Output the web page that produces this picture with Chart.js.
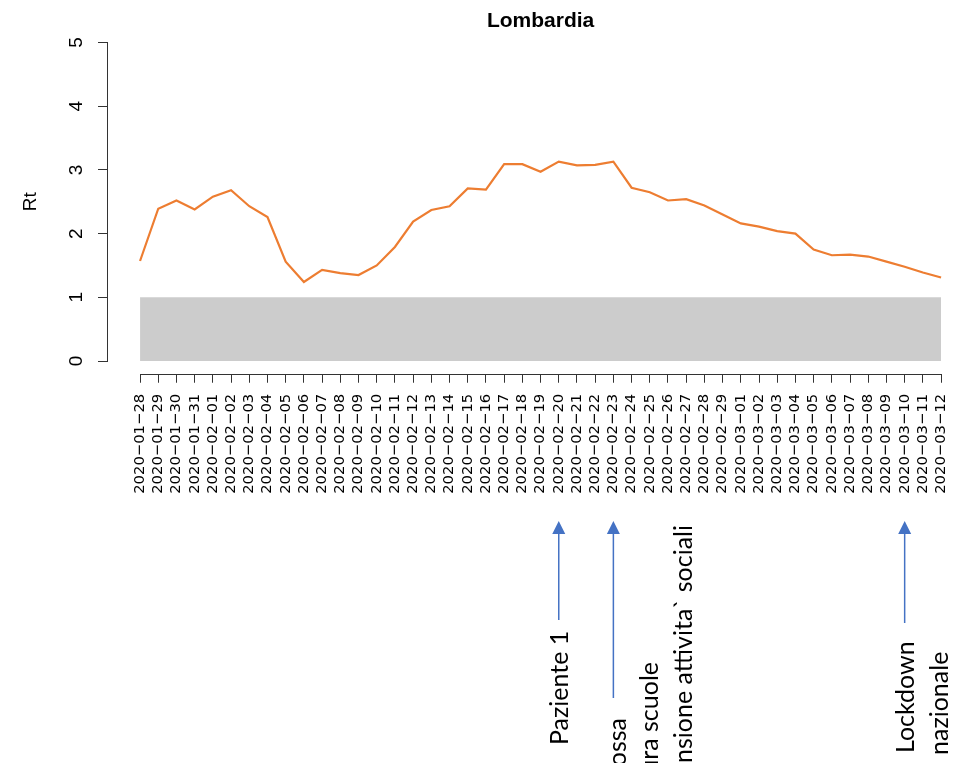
<!DOCTYPE html>
<html>

<head>
  <title>Rt Lombardia</title>
  <script src="https://cdn.jsdelivr.net/npm/chart.js@4.4.0/dist/chart.umd.min.js"></script>

  <style>
    body {
      margin: 0;
      background-color: white;
      overflow: hidden;
    }

    .chart-container {
      position: relative;
      width: 956px;
      height: 763px;
    }
  </style>
</head>

<body>
  <div class="chart-container">
    <canvas id="rtChart"></canvas>
  </div>

  <script>
    const titolo = 'Lombardia';
    const dates = [
      '2020-01-28', '2020-01-29', '2020-01-30', '2020-01-31',
      '2020-02-01', '2020-02-02', '2020-02-03', '2020-02-04', '2020-02-05', '2020-02-06', '2020-02-07',
      '2020-02-08', '2020-02-09', '2020-02-10', '2020-02-11', '2020-02-12', '2020-02-13', '2020-02-14',
      '2020-02-15', '2020-02-16', '2020-02-17', '2020-02-18', '2020-02-19', '2020-02-20', '2020-02-21',
      '2020-02-22', '2020-02-23', '2020-02-24', '2020-02-25', '2020-02-26', '2020-02-27', '2020-02-28',
      '2020-02-29', '2020-03-01', '2020-03-02', '2020-03-03', '2020-03-04', '2020-03-05', '2020-03-06',
      '2020-03-07', '2020-03-08', '2020-03-09', '2020-03-10', '2020-03-11', '2020-03-12'
    ];
    const rt = [
      1.57, 2.39, 2.52, 2.38, 2.58, 2.68, 2.43, 2.26, 1.56, 1.24,
      1.43, 1.38, 1.35, 1.50, 1.79, 2.19, 2.37, 2.43, 2.71, 2.69,
      3.09, 3.09, 2.97, 3.13, 3.07, 3.08, 3.13, 2.72, 2.65, 2.52,
      2.54, 2.44, 2.30, 2.16, 2.11, 2.04, 2.00, 1.75, 1.66, 1.67,
      1.64, 1.56, 1.48, 1.39, 1.31
    ];
    const soglia = 1;
    const yTicks = [0, 1, 2, 3, 4, 5];
    const eventi = [
      { date: '2020-02-20', lines: ['Paziente 1'] },
      { date: '2020-02-23', lines: ['Zona rossa', 'Chiusura scuole', 'Sospensione attivita` sociali'] },
      { date: '2020-03-10', lines: ['Lockdown', 'nazionale'] }
    ];

    // posizioni delle frecce / testi (in pixel, relativi alla data)
    const eventLayout = [
      { tail: 620, lines: [{ dx: 9, y: 745, align: 'left' }] },
      { tail: 698, lines: [{ dx: 13, y: 718, align: 'right' }, { dx: 45, y: 662, align: 'right' }, { dx: 79, y: 525, align: 'right' }] },
      { tail: 623, lines: [{ dx: 9, y: 753, align: 'left' }, { dx: 43, y: 755, align: 'left' }] }
    ];

    const arrowColor = '#4472C4';

    const annotazioni = {
      id: 'annotazioni',
      afterDraw(chart) {
        const ctx = chart.ctx;
        const xs = chart.scales.x;
        const ys = chart.scales.y;
        const area = chart.chartArea;
        ctx.save();

        // assi stile R
        ctx.strokeStyle = '#333';
        ctx.lineWidth = 1;
        ctx.beginPath();
        ctx.moveTo(Math.round(area.left) - 0.5, ys.getPixelForValue(yTicks[0]));
        ctx.lineTo(Math.round(area.left) - 0.5, ys.getPixelForValue(yTicks[yTicks.length - 1]));
        ctx.moveTo(xs.getPixelForValue(0), Math.round(area.bottom) + 0.5);
        ctx.lineTo(xs.getPixelForValue(dates.length - 1), Math.round(area.bottom) + 0.5);
        ctx.stroke();

        // titolo
        ctx.fillStyle = '#000';
        ctx.font = 'bold 21px "Liberation Sans", Arial, sans-serif';
        ctx.textAlign = 'center';
        ctx.textBaseline = 'alphabetic';
        ctx.fillText(titolo, xs.getPixelForValue((dates.length - 1) / 2), 27);

        // frecce e testi
        eventi.forEach((ev, k) => {
          const lay = eventLayout[k];
          const px = xs.getPixelForValue(dates.indexOf(ev.date));
          const tip = 521, headBase = 534;
          ctx.strokeStyle = arrowColor;
          ctx.fillStyle = arrowColor;
          ctx.lineWidth = 1.5;
          ctx.beginPath();
          ctx.moveTo(px, lay.tail);
          ctx.lineTo(px, headBase);
          ctx.stroke();
          ctx.beginPath();
          ctx.moveTo(px, tip);
          ctx.lineTo(px - 6.5, headBase);
          ctx.lineTo(px + 6.5, headBase);
          ctx.closePath();
          ctx.fill();

          ctx.fillStyle = '#000';
          ctx.font = '25px Lato, "Open Sans", sans-serif';
          ctx.textBaseline = 'alphabetic';
          ev.lines.forEach((txt, j) => {
            const l = lay.lines[j];
            ctx.save();
            ctx.translate(px + l.dx, l.y);
            ctx.rotate(-Math.PI / 2);
            ctx.textAlign = l.align;
            ctx.fillText(txt, 0, 0);
            ctx.restore();
          });
        });
        ctx.restore();
      }
    };

    const ctx = document.getElementById('rtChart').getContext('2d');

    new Chart(ctx, {
      type: 'line',
      data: {
        datasets: [
          {
            label: 'Rt',
            data: rt.map((v, i) => ({ x: i, y: v })),
            borderColor: '#ED7D31',
            borderWidth: 2.2,
            pointRadius: 0,
            tension: 0,
            fill: false,
            order: 0
          },
          {
            label: 'soglia',
            data: dates.map((d, i) => ({ x: i, y: soglia })),
            borderWidth: 0,
            borderColor: 'rgba(0,0,0,0)',
            backgroundColor: '#CCCCCC',
            pointRadius: 0,
            fill: 'origin',
            order: 1
          }
        ]
      },
      options: {
        responsive: true,
        maintainAspectRatio: false,
        animation: false,
        layout: {
          padding: { top: 29.76, left: 0, right: 0, bottom: 0 }
        },
        plugins: {
          legend: { display: false },
          title: { display: false },
          tooltip: { enabled: false }
        },
        scales: {
          x: {
            type: 'linear',
            min: -1.76,
            max: 44.82,
            afterBuildTicks: s => { s.ticks = dates.map((d, i) => ({ value: i })); },
            afterFit: s => {
              s.height = 389.26;
              s.paddingLeft = 0;
              s.paddingRight = 0;
            },
            grid: { drawOnChartArea: false, drawTicks: true, tickLength: 9, color: '#333' },
            border: { display: false },
            ticks: {
              autoSkip: false,
              minRotation: 90,
              maxRotation: 90,
              padding: 11,
              color: '#000',
              font: { family: '"DejaVu Sans"', size: 14.8 },
              callback: function (value) {
                return dates[value] ? dates[value].replace(/-/g, '\u2212') : '';
              }
            }
          },
          y: {
            min: -0.2,
            max: 5.2,
            afterBuildTicks: s => { s.ticks = yTicks.map(v => ({ value: v })); },
            afterFit: s => { s.width = 108; },
            grid: { drawOnChartArea: false, drawTicks: true, tickLength: 10, color: '#333' },
            border: { display: false },
            ticks: {
              minRotation: 90,
              maxRotation: 90,
              crossAlign: 'center',
              padding: 16,
              color: '#000',
              font: { family: '"Liberation Sans", Arial', size: 19 }
            },
            title: {
              display: true,
              text: 'Rt',
              color: '#000',
              font: { family: '"Liberation Sans", Arial', size: 19 },
              padding: { top: 19, bottom: 0 }
            }
          }
        }
      },
      plugins: [annotazioni]
    });
  </script>
</body>

</html>
